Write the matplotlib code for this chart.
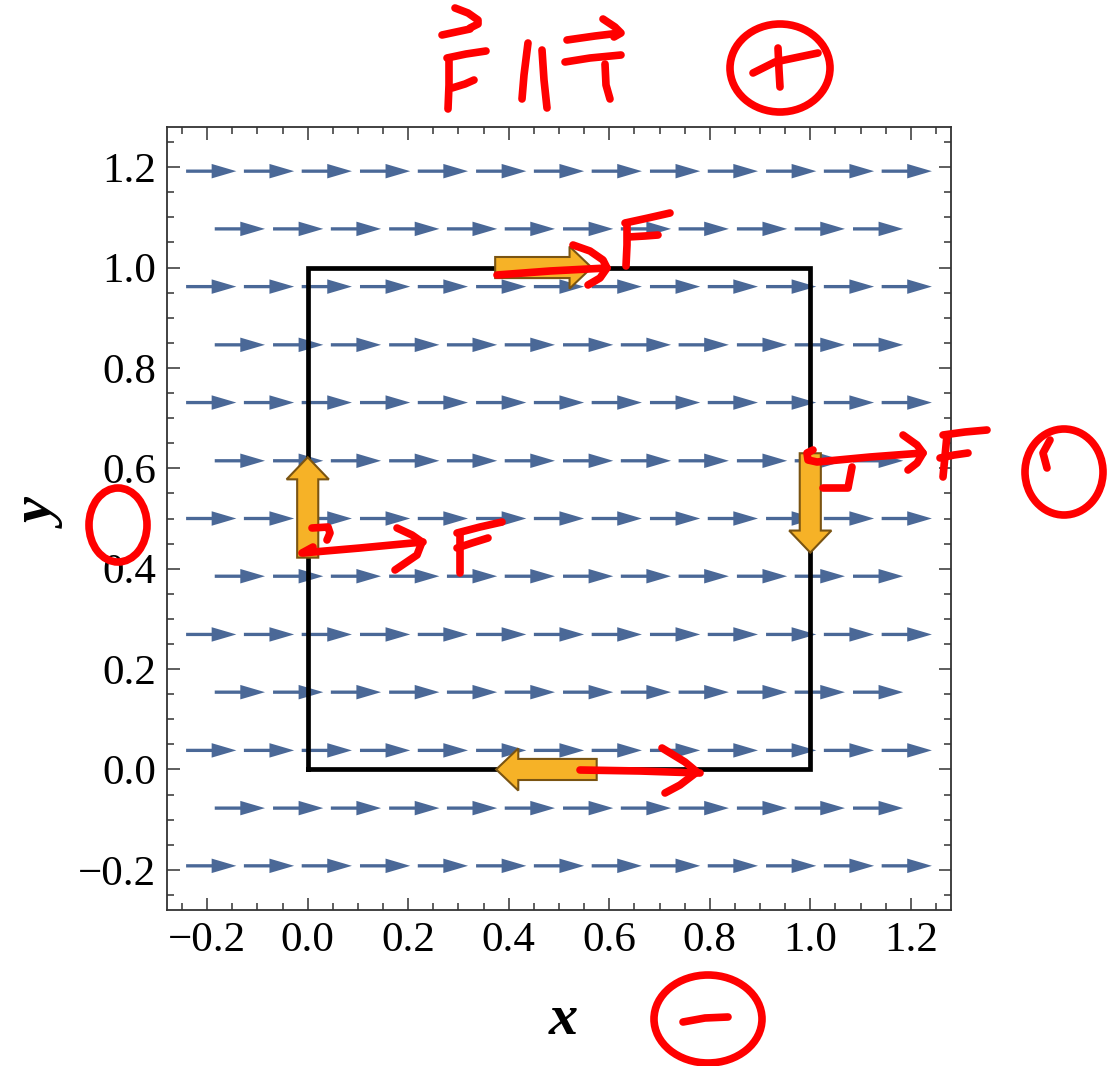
import numpy as np
import matplotlib
matplotlib.use('Agg')
import matplotlib.pyplot as plt
from matplotlib.patches import FancyArrow, Ellipse
from matplotlib.transforms import Affine2D

#----------- Data -----------
# uniform field B -> (1, 0), sampled on a staggered grid
rows_long_y = [-0.192, 0.038, 0.269, 0.500, 0.731, 0.962, 1.192]
cols_long_x = [-0.192, -0.077, 0.038, 0.154, 0.269, 0.385, 0.500,
               0.615, 0.731, 0.846, 0.962, 1.077, 1.192]
rows_short_y = [-0.077, 0.154, 0.385, 0.615, 0.846, 1.077]
cols_short_x = [-0.135, -0.019, 0.096, 0.212, 0.327, 0.442,
                0.558, 0.673, 0.788, 0.904, 1.019, 1.135]
field_u = 1.0
field_v = 0.0

# current loop
loop_x = [0, 1, 1, 0, 0]
loop_y = [0, 0, 1, 1, 0]

# force arrows on each side: tail x, tail y, dx, dy
force_tail_x = [0.373, 0.575, 0.0, 1.0]
force_tail_y = [1.0, 0.0, 0.422, 0.630]
force_dx = [0.192, -0.200, 0.0, 0.0]
force_dy = [0.0, 0.0, 0.200, -0.198]

tick_major = [-0.2, 0.0, 0.2, 0.4, 0.6, 0.8, 1.0, 1.2]

# hand-drawn red ink, in image pixels (x right, y down)
ink_strokes = [
    # F-vector ∥ T-vector
    [(442, 35), (470, 29)],
    [(455, 8), (468, 13), (478, 20), (478, 24), (470, 28)],
    [(449, 58), (449, 85), (448, 109)],
    [(447, 58), (466, 54), (486, 51)],
    [(452, 88), (465, 84), (474, 80)],
    [(528, 43), (524, 75), (522, 99)],
    [(542, 50), (544, 80), (547, 108)],
    [(565, 62), (590, 58), (621, 55)],
    [(605, 64), (606, 85), (610, 99)],
    [(567, 40), (595, 36), (620, 33)],
    [(603, 19), (615, 27), (621, 33), (614, 37)],
    [(753, 73), (775, 62), (818, 53)],
    [(778, 48), (779, 70), (780, 87)],
    # top side F
    [(497, 275), (550, 271), (607, 268)],
    [(573, 245), (590, 251), (603, 260), (607, 268), (600, 278), (588, 285)],
    [(627, 224), (627, 245), (626, 266)],
    [(625, 223), (648, 218), (670, 213)],
    [(628, 237), (645, 236), (658, 235)],
    # left side F
    [(313, 547), (302, 553), (360, 548), (423, 542)],
    [(312, 528), (328, 527), (330, 533), (327, 540)],
    [(397, 528), (412, 535), (422, 542), (417, 555), (395, 570)],
    [(460, 533), (460, 553), (460, 573)],
    [(457, 533), (480, 527), (502, 522)],
    [(457, 548), (472, 543), (488, 538)],
    # right side F
    [(813, 450), (807, 453), (808, 460), (817, 462), (870, 457), (923, 453)],
    [(903, 435), (917, 445), (923, 453), (917, 463), (908, 470)],
    [(852, 467), (848, 488), (823, 488)],
    [(947, 435), (945, 456), (943, 477)],
    [(943, 435), (965, 432), (987, 430)],
    [(940, 458), (954, 455), (968, 453)],
    [(1047, 468), (1043, 453), (1050, 440)],
    # bottom side F
    [(580, 770), (640, 771), (700, 773)],
    [(662, 748), (685, 762), (697, 772), (680, 785), (665, 793)],
    # minus sign in bottom circle
    [(683, 1022), (705, 1018), (728, 1017)],
]
# circles: centre x, centre y, width, height (pixels)
ink_circles = [
    (780, 68, 100, 88),
    (1064, 472, 78, 86),
    (118, 525, 58, 74),
    (708, 1019, 108, 88),
]
#-----------------------------------------------

W, H = 1117, 1066
fig = plt.figure(figsize=(W / 100, H / 100), dpi=100)
ax = fig.add_axes([167 / W, 1 - 910 / H, 784 / W, 783 / H])

serif = 'Liberation Serif'
arrow_col = '#4a6897'

# vector field
for ys, xs in [(rows_long_y, cols_long_x), (rows_short_y, cols_short_x)]:
    X, Y = np.meshgrid(xs, ys)
    ax.quiver(X, Y, np.full(X.shape, field_u), np.full(X.shape, field_v),
              angles='xy', scale_units='xy', scale=10, pivot='middle',
              color=arrow_col, width=0.0042, headwidth=4.4, headlength=7.5,
              headaxislength=7.5, zorder=2)

# loop
ax.plot(loop_x, loop_y, color='black', lw=3.4, solid_joinstyle='miter', zorder=3)

# force arrows
for x0, y0, dx, dy in zip(force_tail_x, force_tail_y, force_dx, force_dy):
    ax.add_patch(FancyArrow(x0, y0, dx, dy, width=0.042, head_width=0.084,
                            head_length=0.044, length_includes_head=True,
                            facecolor='#f6b227', edgecolor='#7a5412', lw=1.5,
                            zorder=4))

ax.set_xlim(-0.28, 1.28)
ax.set_ylim(-0.28, 1.28)

ax.set_xticks(tick_major)
ax.set_yticks(tick_major)
ax.set_xticks(np.arange(-0.25, 1.2751, 0.05), minor=True)
ax.set_yticks(np.arange(-0.25, 1.2751, 0.05), minor=True)
ax.set_xticklabels([f'{t:.1f}'.replace('-', '\u2212') for t in tick_major])
ax.set_yticklabels([f'{t:.1f}'.replace('-', '\u2212') for t in tick_major])
ax.tick_params(which='both', direction='in', top=True, right=True,
               color='#333333', width=1.1)
ax.tick_params(which='major', length=9, labelsize=31, pad=8)
ax.tick_params(which='minor', length=5)
for lab in ax.get_xticklabels() + ax.get_yticklabels():
    lab.set_fontfamily(serif)
for sp in ax.spines.values():
    sp.set_color('#333333')
    sp.set_linewidth(1.3)

ax.set_xlabel('x', fontfamily=serif, fontsize=42, fontweight='bold',
              fontstyle='italic')
ax.set_ylabel('y', fontfamily=serif, fontsize=42, fontweight='bold',
              fontstyle='italic')
ax.xaxis.set_label_coords(0.505, -0.14)
ax.xaxis.label.set_va('center')
ax.yaxis.set_label_coords(-0.158, 0.504)
ax.yaxis.label.set_va('center')

# red ink overlay in pixel coordinates
ink = Affine2D().scale(1 / W, -1 / H).translate(0, 1) + fig.transFigure
for stroke in ink_strokes:
    xs, ys = zip(*stroke)
    fig.lines.append(plt.Line2D(xs, ys, transform=ink, color='#ff0000',
                                lw=5.5, solid_capstyle='round',
                                solid_joinstyle='round', zorder=10))
for cx, cy, w, h in ink_circles:
    fig.patches.append(Ellipse((cx, cy), w, h, transform=ink, fill=False,
                               edgecolor='#ff0000', lw=5.5, zorder=10))

fig.savefig('out.png', dpi=100)
